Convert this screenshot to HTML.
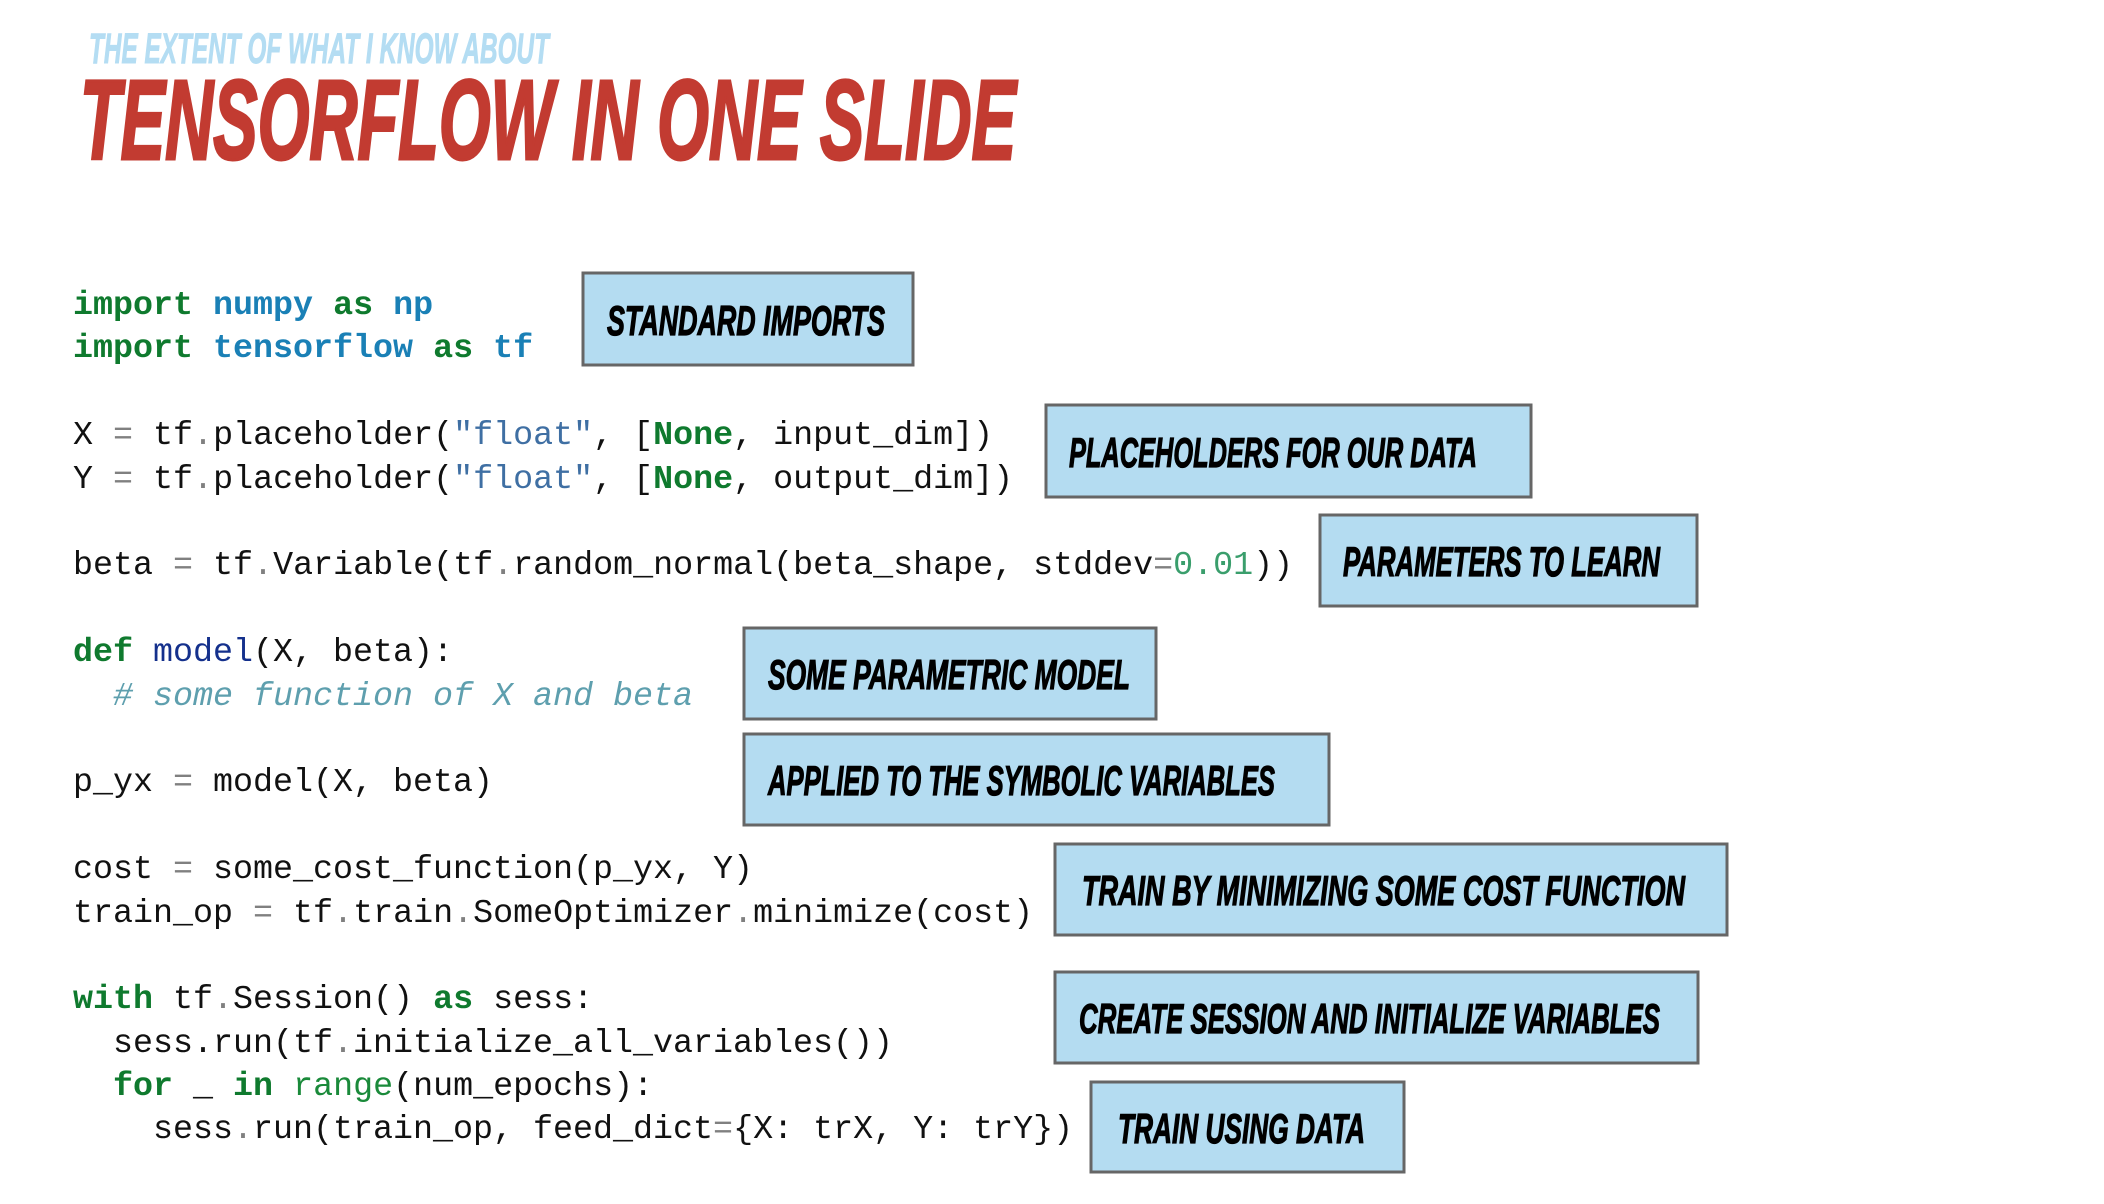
<!DOCTYPE html>
<html>
<head>
<meta charset="utf-8">
<style>
  html, body { margin: 0; padding: 0; background: #ffffff; }
  body { width: 2104px; height: 1204px; overflow: hidden; }
  svg { display: block; }
  .code { font-family: "Liberation Mono", "DejaVu Sans Mono", monospace; font-size: 33.33px; fill: #111111; white-space: pre; }
  .kw { fill: #0f7a2e; font-weight: bold; }
  .mod { fill: #1a80b6; font-weight: bold; }
  .op { fill: #808080; }
  .str { fill: #3f6fa3; }
  .num { fill: #3a9e6c; }
  .fn { fill: #14308c; }
  .cm { fill: #5e9fae; font-style: italic; }
  .bi { fill: #1a8a3a; }
  .lbl { font-family: "Liberation Sans", "DejaVu Sans", sans-serif; font-weight: bold; font-style: italic; font-size: 42px; fill: #000000; stroke: #000000; stroke-width: 1.2; }
  .box { fill: #b4dcf1; stroke: #666666; stroke-width: 3; }
</style>
</head>
<body>
<svg width="2104" height="1204" viewBox="0 0 2104 1204" xmlns="http://www.w3.org/2000/svg">
  <!-- Titles -->
  <text x="89" y="63" font-family="Liberation Sans, sans-serif" font-weight="bold" font-style="italic" font-size="43" fill="#b4ddf3" stroke="#b4ddf3" stroke-width="1" textLength="460" lengthAdjust="spacingAndGlyphs">THE EXTENT OF WHAT I KNOW ABOUT</text>
  <text x="80" y="159" font-family="Liberation Sans, sans-serif" font-weight="bold" font-style="italic" font-size="113" fill="#c23b31" stroke="#c23b31" stroke-width="3" textLength="936" lengthAdjust="spacingAndGlyphs">TENSORFLOW IN ONE SLIDE</text>

  <!-- Code -->
  <text class="code" x="73" y="314"><tspan class="kw">import</tspan> <tspan class="mod">numpy</tspan> <tspan class="kw">as</tspan> <tspan class="mod">np</tspan></text>
  <text class="code" x="73" y="357"><tspan class="kw">import</tspan> <tspan class="mod">tensorflow</tspan> <tspan class="kw">as</tspan> <tspan class="mod">tf</tspan></text>

  <text class="code" x="73" y="444">X <tspan class="op">=</tspan> tf<tspan class="op">.</tspan>placeholder(<tspan class="str">"float"</tspan>, [<tspan class="kw">None</tspan>, input_dim])</text>
  <text class="code" x="73" y="488">Y <tspan class="op">=</tspan> tf<tspan class="op">.</tspan>placeholder(<tspan class="str">"float"</tspan>, [<tspan class="kw">None</tspan>, output_dim])</text>

  <text class="code" x="73" y="574">beta <tspan class="op">=</tspan> tf<tspan class="op">.</tspan>Variable(tf<tspan class="op">.</tspan>random_normal(beta_shape, stddev<tspan class="op">=</tspan><tspan class="num">0.01</tspan>))</text>

  <text class="code" x="73" y="661"><tspan class="kw">def</tspan> <tspan class="fn">model</tspan>(X, beta):</text>
  <text class="code" x="73" y="705">  <tspan class="cm"># some function of X and beta</tspan></text>

  <text class="code" x="73" y="791">p_yx <tspan class="op">=</tspan> model(X, beta)</text>

  <text class="code" x="73" y="878">cost <tspan class="op">=</tspan> some_cost_function(p_yx, Y)</text>
  <text class="code" x="73" y="922">train_op <tspan class="op">=</tspan> tf<tspan class="op">.</tspan>train<tspan class="op">.</tspan>SomeOptimizer<tspan class="op">.</tspan>minimize(cost)</text>

  <text class="code" x="73" y="1008"><tspan class="kw">with</tspan> tf<tspan class="op">.</tspan>Session() <tspan class="kw">as</tspan> sess:</text>
  <text class="code" x="73" y="1052">  sess.run(tf<tspan class="op">.</tspan>initialize_all_variables())</text>
  <text class="code" x="73" y="1095">  <tspan class="kw">for</tspan> _ <tspan class="kw">in</tspan> <tspan class="bi">range</tspan>(num_epochs):</text>
  <text class="code" x="73" y="1138">    sess<tspan class="op">.</tspan>run(train_op, feed_dict<tspan class="op">=</tspan>{X: trX, Y: trY})</text>

  <!-- Label boxes -->
  <rect class="box" x="583" y="273" width="330" height="92"/>
  <text class="lbl" x="607" y="335" textLength="278" lengthAdjust="spacingAndGlyphs">STANDARD IMPORTS</text>

  <rect class="box" x="1046" y="405" width="485" height="92"/>
  <text class="lbl" x="1069" y="467" textLength="408" lengthAdjust="spacingAndGlyphs">PLACEHOLDERS FOR OUR DATA</text>

  <rect class="box" x="1320" y="515" width="377" height="91"/>
  <text class="lbl" x="1343" y="576" textLength="317" lengthAdjust="spacingAndGlyphs">PARAMETERS TO LEARN</text>

  <rect class="box" x="744" y="628" width="412" height="91"/>
  <text class="lbl" x="768" y="689" textLength="362" lengthAdjust="spacingAndGlyphs">SOME PARAMETRIC MODEL</text>

  <rect class="box" x="744" y="734" width="585" height="91"/>
  <text class="lbl" x="768" y="795" textLength="507" lengthAdjust="spacingAndGlyphs">APPLIED TO THE SYMBOLIC VARIABLES</text>

  <rect class="box" x="1055" y="844" width="672" height="91"/>
  <text class="lbl" x="1082" y="905" textLength="603" lengthAdjust="spacingAndGlyphs">TRAIN BY MINIMIZING SOME COST FUNCTION</text>

  <rect class="box" x="1055" y="972" width="643" height="91"/>
  <text class="lbl" x="1079" y="1033" textLength="581" lengthAdjust="spacingAndGlyphs">CREATE SESSION AND INITIALIZE VARIABLES</text>

  <rect class="box" x="1091" y="1082" width="313" height="90"/>
  <text class="lbl" x="1118" y="1143" textLength="247" lengthAdjust="spacingAndGlyphs">TRAIN USING DATA</text>
</svg>
</body>
</html>
